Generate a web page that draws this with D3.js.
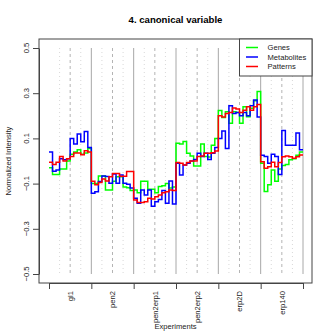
<!DOCTYPE html>
<html lang="en">
<head>
<meta charset="utf-8" />
<title>4. canonical variable</title>
<script src="https://cdn.jsdelivr.net/npm/d3@7"></script>
<style>
  body { margin: 0; background: #fff; }
  svg { font-family: "Liberation Sans", Arial, sans-serif; }
</style>
</head>
<body>
<svg id="chart" width="332" height="332"></svg>
<script>
// experiments, 12 samples each
const experiments = ["gl1", "pen2", "pen2erp1", "pen2erp2", "erp2D", "erp140"];
const yTicks = [-0.5, -0.3, -0.1, 0.1, 0.3, 0.5];
const seriesNames = ["Genes", "Metabolites", "Patterns"];

const genes = [
  -0.03, -0.06, -0.06, -0.035, -0.035, 0.0, 0.03, 0.04, 0.05, 0.03, 0.035, 0.055,
  -0.1, -0.1, -0.066, -0.066, -0.128, -0.128, -0.09, -0.07, -0.07, -0.115, -0.118, -0.13,
  -0.128, -0.14, -0.09, -0.09, -0.125, -0.125, -0.14, -0.113, -0.11, -0.1, -0.12, -0.115,
  0.078, 0.075, 0.086, 0.034, 0.022, -0.022, -0.022, 0.075, 0.02, 0.018, 0.07, 0.1,
  0.223, 0.193, 0.218, 0.167, 0.218, 0.215, 0.167, 0.24, 0.196, 0.233, 0.267, 0.307,
  -0.01, -0.135, -0.105, -0.04, -0.09, -0.035, -0.02, -0.015, 0.005, 0.01, 0.025, 0.04
];
const metabolites = [
  0.04, -0.045, -0.04, 0.01, 0.005, 0.01, 0.1, 0.075, 0.12, 0.085, 0.13, 0.06,
  -0.143, -0.136, -0.091, -0.066, -0.069, -0.099, -0.058, -0.099, -0.062, -0.099, -0.103, -0.12,
  -0.165, -0.187, -0.128, -0.15, -0.128, -0.2, -0.18, -0.17, -0.13, -0.187, -0.088, -0.19,
  -0.01, -0.062, -0.018, -0.01, 0.0, 0.007, 0.034, 0.02, 0.034, 0.007, 0.034, 0.06,
  0.1, 0.133, 0.055, 0.245, 0.21, 0.215, 0.2, 0.215, 0.2, 0.245, 0.27, 0.195,
  0.025, 0.02, -0.01, 0.03, 0.02, -0.06, 0.135, 0.07, 0.07, 0.07, 0.124, 0.05
];
const patterns = [
  -0.005, -0.015, -0.005, 0.02, 0.0, 0.01, 0.02, 0.035, 0.035, 0.028, 0.045, 0.04,
  -0.09, -0.105, -0.095, -0.08, -0.088, -0.07, -0.055, -0.055, -0.068, -0.068, -0.047, -0.047,
  -0.173, -0.184, -0.184, -0.18, -0.165, -0.168, -0.158, -0.15, -0.14, -0.136, -0.128, -0.13,
  -0.007, -0.01, -0.018, -0.007, 0.0, 0.0, 0.02, 0.022, 0.034, 0.034, 0.037, 0.044,
  0.2, 0.195, 0.21, 0.215, 0.235, 0.23, 0.215, 0.225, 0.24, 0.225, 0.24, 0.25,
  -0.003, -0.032, -0.025, -0.005, -0.025, -0.007, 0.019, 0.022, 0.019, 0.012, 0.019, 0.027
];

const colors = ["#00ff00", "#0000ff", "#ff0000"];
const series = [genes, metabolites, patterns];
const perExp = 12;
const n = experiments.length * perExp;

const svg = d3.select("#chart");
const margin = {top: 39, right: 20, bottom: 49, left: 39};
const width = +svg.attr("width"), height = +svg.attr("height");

// R-style 4% padding around data range
const x = d3.scaleLinear().domain([0, n]).range([49, 303]);
const y = d3.scaleLinear().domain([-0.5, 0.5]).range([274, 48]);

svg.append("rect").attr("width", width).attr("height", height).attr("fill", "#fff");

// guide lines for experiments / time points
const guides = d3.range(3, n + 1, 3);
svg.append("g")
  .selectAll("line")
  .data(guides)
  .join("line")
    .attr("x1", d => x(d)).attr("x2", d => x(d))
    .attr("y1", y(0.5)).attr("y2", y(-0.5))
    .attr("stroke", d => d % 12 === 0 ? "#a8a8a8" : d % 6 === 0 ? "#b4b4b4" : "#d8d8d8")
    .attr("stroke-dasharray", d => d % 12 === 0 ? null : d % 6 === 0 ? "3,3" : "1,3")
    .attr("stroke-width", 1);

// step lines
const line = d3.line()
  .x(d => x(d[0]))
  .y(d => y(d[1]))
  .curve(d3.curveStepAfter);

series.forEach((s, i) => {
  const pts = s.map((v, j) => [j, v]);
  pts.push([n, s[s.length - 1]]);
  svg.append("path")
    .datum(pts)
    .attr("fill", "none")
    .attr("stroke", colors[i])
    .attr("stroke-width", 1.5)
    .attr("d", line);
});

// plot frame
svg.append("rect")
  .attr("x", margin.left).attr("y", margin.top)
  .attr("width", width - margin.left - margin.right)
  .attr("height", height - margin.top - margin.bottom)
  .attr("fill", "none")
  .attr("stroke", "#444");

// y axis
const yAxis = svg.append("g")
  .attr("transform", `translate(${margin.left},0)`)
  .call(d3.axisLeft(y).tickValues(yTicks).tickSize(6).tickSizeOuter(0).tickFormat(""));
yAxis.select(".domain").attr("stroke", "#444");
yAxis.selectAll(".tick line").attr("stroke", "#444");

svg.append("g")
  .selectAll("text")
  .data(yTicks)
  .join("text")
    .attr("transform", d => `translate(29,${y(d)}) rotate(-90)`)
    .attr("text-anchor", "middle")
    .attr("font-size", "7.6px")
    .attr("fill", "#222")
    .text(d => d3.format(".1f")(d));

// x axis: ticks at experiment boundaries, labels in between
const xAxis = svg.append("g")
  .attr("transform", `translate(0,${height - margin.bottom})`)
  .call(d3.axisBottom(x).tickValues(d3.range(0, n + 1, perExp)).tickSize(6).tickSizeOuter(0).tickFormat(""));
xAxis.select(".domain").attr("stroke", "#444");
xAxis.selectAll(".tick line").attr("stroke", "#444");

svg.append("g")
  .selectAll("text")
  .data(experiments)
  .join("text")
    .attr("transform", (d, i) => `translate(${x(i * perExp + perExp / 2)},291) rotate(-90)`)
    .attr("text-anchor", "end")
    .attr("dy", "0.35em")
    .attr("font-size", "7.6px")
    .attr("fill", "#222")
    .text(d => d);

svg.append("text")
  .attr("x", (margin.left + width - margin.right) / 2)
  .attr("y", 329)
  .attr("text-anchor", "middle")
  .attr("font-size", "7.6px")
  .attr("fill", "#222")
  .text("Experiments");

svg.append("text")
  .attr("transform", `translate(10.5,${(margin.top + height - margin.bottom) / 2}) rotate(-90)`)
  .attr("text-anchor", "middle")
  .attr("font-size", "7.6px")
  .attr("fill", "#222")
  .text("Normalized Intensity");

// title
svg.append("text")
  .attr("x", (margin.left + width - margin.right) / 2)
  .attr("y", 23)
  .attr("text-anchor", "middle")
  .attr("font-size", "9.6px")
  .attr("font-weight", "bold")
  .text("4. canonical variable");

// legend
const legend = svg.append("g");
legend.append("rect")
  .attr("x", 239.5).attr("y", margin.top)
  .attr("width", width - margin.right - 239.5)
  .attr("height", 37)
  .attr("fill", "#fff")
  .attr("stroke", "#444");

seriesNames.forEach((name, i) => {
  const ly = 47.5 + i * 9.5;
  legend.append("line")
    .attr("x1", 246).attr("x2", 258)
    .attr("y1", ly).attr("y2", ly)
    .attr("stroke", colors[i])
    .attr("stroke-width", 1.5);
  legend.append("text")
    .attr("x", 267.5).attr("y", ly)
    .attr("dy", "0.35em")
    .attr("font-size", "7.6px")
    .attr("fill", "#222")
    .text(name);
});
</script>
</body>
</html>
